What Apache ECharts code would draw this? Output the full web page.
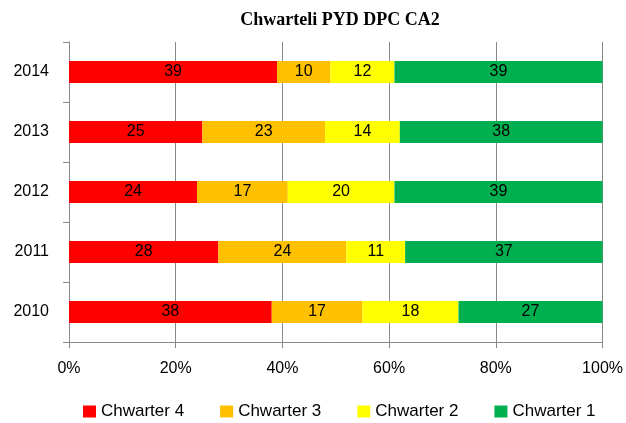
<!DOCTYPE html>
<html>
<head>
<meta charset="utf-8">
<script src="https://cdn.jsdelivr.net/npm/echarts@6/dist/echarts.min.js"></script>
<style>
  html, body { margin: 0; padding: 0; background: #fff; }
  #chart { width: 626px; height: 423px; }
</style>
</head>
<body>
<div id="chart"></div>
<script>
// blynyddoedd, o'r gwaelod i'r brig
const years = ["2010", "2011", "2012", "2013", "2014"];
const chwarter4 = [38, 28, 24, 25, 39];
const chwarter3 = [17, 24, 17, 23, 10];
const chwarter2 = [18, 11, 20, 14, 12];
const chwarter1 = [27, 37, 39, 38, 39];
const xTicks = [0, 20, 40, 60, 80, 100];

const font = "'Liberation Sans', Arial, sans-serif";

const chart = echarts.init(document.getElementById("chart"));

function makeSeries(name, data, color) {
  return {
    name: name,
    type: "bar",
    stack: "total",
    data: data,
    barWidth: 22,
    itemStyle: { color: color },
    label: {
      show: true,
      position: "inside",
      color: "#000",
      fontFamily: font,
      fontSize: 16,
    },
  };
}

chart.setOption({
  animation: false,
  title: {
    text: "Chwarteli PYD DPC CA2",
    left: 335,
    top: 6,
    textAlign: "center",
    textStyle: {
      fontFamily: "'Liberation Serif', 'Times New Roman', serif",
      fontWeight: "bold",
      fontSize: 18,
      color: "#000",
    },
  },
  grid: {
    left: 69,
    right: 23,
    top: 42,
    bottom: 81,
  },
  xAxis: {
    type: "value",
    min: 0,
    max: 100,
    interval: 20,
    axisLine: { show: true, lineStyle: { color: "#888" } },
    axisTick: { show: true, length: 6, lineStyle: { color: "#888" } },
    splitLine: { show: true, lineStyle: { color: "#888" } },
    axisLabel: {
      margin: 19,
      color: "#000",
      fontFamily: font,
      fontSize: 16,
      formatter: (v) => (xTicks.includes(v) ? v + "%" : ""),
    },
  },
  yAxis: {
    type: "category",
    data: years,
    axisLine: { show: true, lineStyle: { color: "#888" } },
    axisTick: { show: true, length: 6, lineStyle: { color: "#888" } },
    axisLabel: {
      margin: 20,
      color: "#000",
      fontFamily: font,
      fontSize: 16,
    },
  },
  legend: {
    top: 398,
    left: 78,
    itemWidth: 13,
    itemHeight: 12,
    itemGap: 36,
    icon: "rect",
    textStyle: { color: "#000", fontFamily: font, fontSize: 17 },
    data: ["Chwarter 4", "Chwarter 3", "Chwarter 2", "Chwarter 1"],
  },
  series: [
    makeSeries("Chwarter 4", chwarter4, "#FF0000"),
    makeSeries("Chwarter 3", chwarter3, "#FFC000"),
    makeSeries("Chwarter 2", chwarter2, "#FFFF00"),
    makeSeries("Chwarter 1", chwarter1, "#00B050"),
  ],
});
</script>
</body>
</html>
